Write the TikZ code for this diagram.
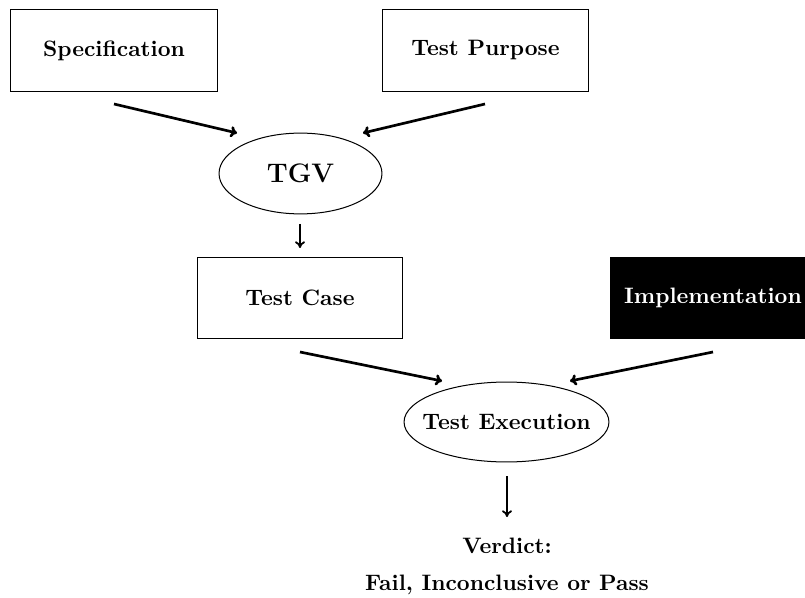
\documentclass[tikz,border=0pt]{standalone}
\usetikzlibrary{arrows.meta}
\begin{document}
\begin{tikzpicture}[x=0.448pt,y=-0.448pt,
  boxnode/.style={draw,line width=0.45pt,minimum width=92.3pt,minimum height=36.4pt,inner sep=0pt,font=\bfseries},
  plain/.style={inner sep=0pt,font=\bfseries},
  bigarrow/.style={line width=1.2pt,-{To[length=3pt,width=5pt]}},
  smallarrow/.style={line width=0.8pt,-{To[length=3pt,width=4.5pt]}}]
\useasboundingbox (0,0) rectangle (805,598);
\node[boxnode] (spec) at (114,50.5) {Specification};
\node[boxnode] (purp) at (485.5,50.5) {Test Purpose};
\node[plain,font=\large\bfseries] (tgv) at (300.5,173.5) {TGV};
\draw[line width=0.45pt] (tgv.center) ellipse [x radius=36.5pt,y radius=18.1pt];
\node[boxnode,minimum width=91.4pt,minimum height=36.7pt] (tc) at (300,298) {Test Case};
\node[boxnode,minimum width=91.4pt,minimum height=36.7pt,fill=black,text=white] (impl) at (713,298) {Implementation};
\node[plain] (te) at (506.5,422) {Test Execution};
\draw[line width=0.45pt] (te.center) ellipse [x radius=45.9pt,y radius=17.9pt];
\node[plain] (v1) at (507,546) {Verdict:};
\node[plain] (v2) at (507,585) {Fail, Inconclusive or Pass};
\coordinate (a1) at (114,104); \coordinate (b1) at (237,133);
\coordinate (a2) at (485,104); \coordinate (b2) at (363,133);
\coordinate (a3) at (300,224); \coordinate (b3) at (300,248);
\coordinate (a4) at (300,352); \coordinate (b4) at (442,381);
\coordinate (a5) at (713,352); \coordinate (b5) at (570,381);
\coordinate (a6) at (507,476); \coordinate (b6) at (507,517);
\draw[bigarrow] (a1) -- (b1);
\draw[bigarrow] (a2) -- (b2);
\draw[smallarrow] (a3) -- (b3);
\draw[bigarrow] (a4) -- (b4);
\draw[bigarrow] (a5) -- (b5);
\draw[smallarrow] (a6) -- (b6);
\end{tikzpicture}
\end{document}
